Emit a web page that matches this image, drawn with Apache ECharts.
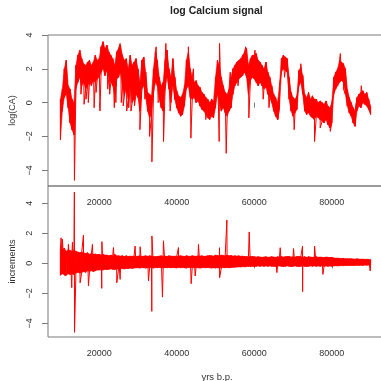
<!DOCTYPE html>
<html>
<head>
<meta charset="utf-8">
<script src="https://cdn.jsdelivr.net/npm/echarts@6/dist/echarts.min.js"></script>
<style>
  html, body { margin: 0; padding: 0; background: #fff; }
  #chart { width: 381px; height: 381px; }
</style>
</head>
<body>
<div id="chart"></div>
<script>
// sample positions (yrs b.p.), every 500 years
const years = [
  10000, 10500, 11000, 11500, 12000, 12500, 13000, 13500, 14000, 14500,
  15000, 15500, 16000, 16500, 17000, 17500, 18000, 18500, 19000, 19500,
  20000, 20500, 21000, 21500, 22000, 22500, 23000, 23500, 24000, 24500,
  25000, 25500, 26000, 26500, 27000, 27500, 28000, 28500, 29000, 29500,
  30000, 30500, 31000, 31500, 32000, 32500, 33000, 33500, 34000, 34500,
  35000, 35500, 36000, 36500, 37000, 37500, 38000, 38500, 39000, 39500,
  40000, 40500, 41000, 41500, 42000, 42500, 43000, 43500, 44000, 44500,
  45000, 45500, 46000, 46500, 47000, 47500, 48000, 48500, 49000, 49500,
  50000, 50500, 51000, 51500, 52000, 52500, 53000, 53500, 54000, 54500,
  55000, 55500, 56000, 56500, 57000, 57500, 58000, 58500, 59000, 59500,
  60000, 60500, 61000, 61500, 62000, 62500, 63000, 63500, 64000, 64500,
  65000, 65500, 66000, 66500, 67000, 67500, 68000, 68500, 69000, 69500,
  70000, 70500, 71000, 71500, 72000, 72500, 73000, 73500, 74000, 74500,
  75000, 75500, 76000, 76500, 77000, 77500, 78000, 78500, 79000, 79500,
  80000, 80500, 81000, 81500, 82000, 82500, 83000, 83500, 84000, 84500,
  85000, 85500, 86000, 86500, 87000, 87500, 88000, 88500, 89000, 89500,
  90000
];

// log(CA): low / high edge of the dense band at each sample
const caLo = [
  -2.2, -0.5, 0.3, 0.5, -0.3, -1.2, -1.6, -1.9, 0.8, 1.2,
  1.5, 1.0, 1.2, 0.8, 1.0, 1.2, 1.0, 1.3, 1.2, 1.4,
  1.5, 1.8, 2.0, 1.6, 1.9, 1.5, 1.2, 1.0, 0.5, 1.4,
  1.5, 1.8, 1.0, 0.4, 0.8, 0.2, 1.0, 0.0, 0.2, 0.5,
  0.3, -0.5, 0.8, 1.0, 0.3, -0.5, -0.9, -0.7, 0.5, 1.2,
  1.0, 0.2, -0.3, -0.5, 0.8, 1.5, 0.8, 0.0, 1.0, 0.2,
  -0.3, -0.6, -0.8, -0.7, -0.2, 0.8, 1.0, 0.3, 0.2, 0.3,
  0.0, 0.1, -0.2, -0.4, -0.5, -0.7, -0.9, -1.0, -0.8, -0.9,
  -0.3, 0.5, 0.0, -0.5, -0.3, -0.6, -0.8, -0.5, -0.3, 0.5,
  1.0, 1.2, 1.4, 1.5, 1.6, 1.8, 1.5, 0.5, 1.3, 1.5,
  1.4, 1.2, 1.0, 1.2, 1.0, 0.8, 0.9, 0.5, 0.3, 0.0,
  -0.5, -0.8, -1.0, -0.3, 1.8, 2.0, 1.9, 1.8, 0.2, -0.5,
  -0.8, -0.6, -0.4, 1.0, 1.2, 0.5, -0.5, -0.7, -0.6, -0.8,
  -0.9, -1.0, -0.8, -0.9, -1.0, -1.1, -1.2, -1.0, -1.3, -1.5,
  -1.2, 0.5, 0.8, 1.0, 1.2, 1.3, 1.2, 0.5, -0.2, -0.6,
  -0.8, -1.2, -1.4, -0.5, -0.2, -0.3, 0.0, -0.1, -0.2, -0.4,
  -0.7
];
const caHi = [
  0.2, 0.8, 2.0, 2.5, 1.0, 0.8, 0.2, 0.0, 2.2, 2.8,
  3.1, 2.6, 2.3, 2.2, 2.4, 2.5, 2.2, 2.4, 2.8, 2.5,
  2.6, 3.3, 3.6, 3.2, 3.4, 3.0, 2.8, 2.6, 2.2, 3.0,
  3.2, 3.4, 2.8, 2.5, 2.6, 2.0, 2.8, 2.2, 2.4, 2.6,
  2.0, 1.2, 2.5, 2.7, 1.8, 0.6, 0.5, 0.4, 2.0, 3.0,
  2.5, 1.5, 1.0, 1.2, 2.5, 3.1, 2.0, 1.5, 2.6, 1.5,
  0.7, 0.4, 0.3, 0.5, 1.0, 2.5, 3.0, 2.0, 1.5, 1.2,
  1.3, 1.0, 0.9, 0.6, 0.5, 0.3, 0.2, 0.0, 0.2, 0.1,
  1.5, 2.5, 2.2, 1.5, 1.0, 0.6, 0.5, 0.8, 1.5, 2.0,
  2.2, 2.4, 2.5, 2.6, 2.8, 3.0, 3.2, 2.2, 2.6, 2.8,
  2.8, 2.9, 2.5, 2.4, 2.2, 2.0, 2.4, 1.8, 1.5, 1.0,
  0.5, 0.3, 0.0, 1.0, 2.6, 2.8, 2.7, 2.6, 1.5, 0.6,
  0.3, 0.2, 0.4, 1.9, 2.1, 1.6, 0.5, 0.3, 0.6, 0.2,
  0.4, 0.2, 0.2, 0.0, 0.1, 0.0, -0.1, 0.1, -0.2, -0.3,
  0.0, 1.5, 1.8, 2.0, 2.5, 2.4, 2.3, 2.0, 0.8, 0.3,
  0.0, -0.3, -0.5, 0.3, 0.5, 0.6, 0.7, 0.5, 0.6, 0.2,
  -0.2
];
// isolated log(CA) spikes [year, value]
const caSpikes = [
  [13620, -4.6], [15300, 0.5], [16100, -0.1], [16600, 0.2], [17200, 0.0],
  [18700, -0.3], [19200, 0.6], [20200, -0.5], [21000, 3.7], [22200, 0.8],
  [22700, 0.5], [23900, -0.3], [24300, 0.0], [25400, 3.5], [25700, 0.0],
  [26200, -0.2], [27100, -0.5], [27600, -0.3], [28200, -0.5], [29100, -0.2],
  [30500, -1.6], [31800, 0.2], [33000, -2.0], [33600, -3.5], [34700, 3.3],
  [35200, 0.0], [36600, -2.3], [37200, 3.5], [38300, -0.5], [43000, 3.3],
  [43650, -2.1], [44300, 2.0], [47500, -1.0], [50950, -2.3], [51050, 3.5],
  [52760, -3.0], [53800, 1.8], [55800, 1.0], [57800, 3.3], [58600, -0.9],
  [60200, 3.1], [62300, 0.2], [63800, -0.3], [66100, -1.0], [67800, 1.5],
  [70300, -1.6], [72000, 2.3], [75550, -2.3], [77000, -1.5], [79600, -1.7],
  [82200, 2.9], [83000, 0.8], [87600, 1.0]
];

// increments: high / low edge of the dense band
const incHi = [
  1.0, 0.9, 1.0, 0.8, 0.9, 0.85, 0.8, 0.9, 0.8, 0.75,
  0.7, 0.75, 0.7, 0.65, 0.7, 0.6, 0.65, 0.6, 0.62, 0.58,
  0.6, 0.55, 0.6, 0.55, 0.55, 0.5, 0.55, 0.5, 0.6, 0.5,
  0.5, 0.48, 0.5, 0.45, 0.5, 0.45, 0.48, 0.46, 0.48, 0.45,
  0.48, 0.5, 0.45, 0.48, 0.5, 0.46, 0.5, 0.48, 0.45, 0.44,
  0.46, 0.48, 0.5, 0.46, 0.48, 0.45, 0.5, 0.48, 0.46, 0.48,
  0.46, 0.48, 0.5, 0.48, 0.46, 0.5, 0.48, 0.46, 0.5, 0.48,
  0.46, 0.5, 0.48, 0.5, 0.46, 0.48, 0.5, 0.52, 0.5, 0.48,
  0.55, 0.52, 0.5, 0.55, 0.52, 0.5, 0.55, 0.5, 0.52, 0.48,
  0.5, 0.48, 0.5, 0.46, 0.48, 0.45, 0.46, 0.44, 0.45, 0.46,
  0.44, 0.42, 0.44, 0.42, 0.4, 0.42, 0.44, 0.4, 0.42, 0.44,
  0.42, 0.4, 0.44, 0.42, 0.45, 0.42, 0.44, 0.45, 0.46, 0.42,
  0.44, 0.42, 0.45, 0.46, 0.44, 0.42, 0.44, 0.4, 0.44, 0.42,
  0.4, 0.42, 0.44, 0.4, 0.42, 0.4, 0.38, 0.42, 0.4, 0.38,
  0.4, 0.36, 0.34, 0.35, 0.33, 0.32, 0.33, 0.3, 0.31, 0.3,
  0.3, 0.29, 0.28, 0.3, 0.28, 0.27, 0.28, 0.26, 0.27, 0.26,
  0.25
];
const incLo = [
  -0.8, -0.7, -0.75, -0.8, -0.7, -0.75, -0.7, -0.75, -0.65, -0.6,
  -0.65, -0.6, -0.55, -0.6, -0.5, -0.55, -0.5, -0.55, -0.5, -0.45,
  -0.45, -0.42, -0.45, -0.4, -0.42, -0.4, -0.38, -0.4, -0.42, -0.38,
  -0.38, -0.36, -0.35, -0.38, -0.34, -0.35, -0.32, -0.34, -0.32, -0.3,
  -0.3, -0.32, -0.28, -0.3, -0.32, -0.3, -0.28, -0.3, -0.32, -0.28,
  -0.3, -0.28, -0.3, -0.32, -0.28, -0.3, -0.28, -0.3, -0.28, -0.3,
  -0.3, -0.28, -0.3, -0.28, -0.3, -0.32, -0.28, -0.3, -0.28, -0.3,
  -0.28, -0.3, -0.32, -0.3, -0.28, -0.3, -0.28, -0.3, -0.32, -0.3,
  -0.32, -0.3, -0.32, -0.3, -0.28, -0.3, -0.28, -0.3, -0.28, -0.26,
  -0.26, -0.25, -0.24, -0.25, -0.22, -0.24, -0.22, -0.2, -0.22, -0.2,
  -0.22, -0.2, -0.18, -0.2, -0.18, -0.2, -0.18, -0.2, -0.18, -0.2,
  -0.2, -0.22, -0.2, -0.18, -0.2, -0.22, -0.2, -0.18, -0.2, -0.22,
  -0.2, -0.18, -0.2, -0.22, -0.2, -0.18, -0.2, -0.22, -0.2, -0.18,
  -0.2, -0.18, -0.2, -0.18, -0.2, -0.18, -0.2, -0.18, -0.2, -0.18,
  -0.2, -0.18, -0.16, -0.18, -0.16, -0.15, -0.16, -0.15, -0.14, -0.15,
  -0.14, -0.15, -0.14, -0.13, -0.14, -0.13, -0.14, -0.12, -0.13, -0.12,
  -0.14
];
const incSpikes = [
  [10180, 1.7], [10520, 1.6], [11210, -0.85], [12070, 1.26], [12930, -1.62],
  [13100, 1.4], [13600, 4.75], [13640, -4.6], [15080, -1.3], [15940, 1.87],
  [17230, -1.5], [18260, 1.26], [20670, -1.67], [20700, 1.44], [23680, 1.05],
  [24540, -1.3], [25400, -1.07], [29270, 1.15], [30560, 1.1], [32710, -1.18],
  [33570, -3.2], [33600, 1.82], [36320, -2.25], [36580, 1.5], [40450, 1.05],
  [43720, -1.36], [44750, -0.85], [45610, 1.26], [51040, 1.04], [51060, -0.96],
  [52930, 2.88], [58690, 2.09], [65830, -0.62], [66690, 1.04], [70130, 0.98],
  [72450, 1.15], [72470, -1.89], [75550, 1.15], [77700, -0.74], [89900, -0.51]
];

const xTicks = [20000, 40000, 60000, 80000];
const yTicks = [-4, -2, 0, 2, 4];

// zig-zag lo -> hi at each sample, spikes merged in by year
function trace(lo, hi, spikes) {
  const pts = [];
  years.forEach((x, i) => { pts.push([x, lo[i]], [x, hi[i]]); });
  spikes.forEach((s) => pts.push(s));
  return pts.sort((a, b) => a[0] - b[0]);
}

const RED = '#ff0000';
const font = '"Liberation Sans", Arial, Helvetica, sans-serif';
const gray = '#7a7a7a';
const ink = '#333';

// filled band between lo and hi (one quad per sample step) + the jagged trace on top
function panelSeries(idx, lo, hi, spikes) {
  const quads = [];
  for (let i = 0; i < years.length - 1; i++) {
    quads.push([years[i], lo[i], hi[i], years[i + 1], lo[i + 1], hi[i + 1]]);
  }
  return [
    {
      type: 'custom', xAxisIndex: idx, yAxisIndex: idx, data: quads, clip: true, silent: true,
      encode: { x: [0, 3], y: [1, 2, 4, 5] },
      renderItem: (params, api) => ({
        type: 'polygon',
        shape: {
          points: [
            api.coord([api.value(0), api.value(1)]),
            api.coord([api.value(0), api.value(2)]),
            api.coord([api.value(3), api.value(5)]),
            api.coord([api.value(3), api.value(4)]),
          ],
        },
        style: { fill: RED, stroke: RED, lineWidth: 0.6 },
      }),
    },
    { type: 'line', xAxisIndex: idx, yAxisIndex: idx, data: trace(lo, hi, spikes),
      showSymbol: false, sampling: null, lineStyle: { color: RED, width: 1 } },
  ];
}

function xAxis(grid, extra) {
  return Object.assign({
    type: 'value', gridIndex: grid, min: 6800, max: 93200 + 3 * 258,
    axisLine: { show: false },
    splitLine: { show: false },
    axisTick: { customValues: xTicks, length: 5, lineStyle: { color: gray } },
    axisLabel: { customValues: xTicks, margin: 12, fontSize: 9, color: ink, fontFamily: font,
      formatter: (v) => String(v) },
  }, extra);
}
function yAxis(grid, min, max, name) {
  return {
    type: 'value', gridIndex: grid, min, max,
    name, nameLocation: 'middle', nameRotate: 90, nameGap: 31,
    nameTextStyle: { fontSize: 9, color: ink, fontFamily: font },
    axisLine: { show: false },
    splitLine: { show: false },
    axisTick: { customValues: yTicks, length: 6, lineStyle: { color: gray } },
    axisLabel: { customValues: yTicks, rotate: 90, margin: 14, fontSize: 9, color: ink, fontFamily: font,
      formatter: (v) => String(v).replace('-', '\u2212') },
  };
}

const chart = echarts.init(document.getElementById('chart'));
chart.setOption({
  animation: false,
  backgroundColor: '#fff',
  title: {
    text: 'log Calcium signal', left: 170, top: 6, padding: 0,
    textStyle: { fontSize: 10.5, fontWeight: 'bold', color: '#222', fontFamily: font },
  },
  grid: [
    { left: 48, top: 35, width: 338, height: 151, outerBoundsMode: 'none', containLabel: false,
      show: true, borderColor: gray, borderWidth: 1 },
    { left: 48, top: 186, width: 338, height: 151, outerBoundsMode: 'none', containLabel: false,
      show: true, borderColor: gray, borderWidth: 1 },
  ],
  xAxis: [
    xAxis(0, {}),
    xAxis(1, { name: 'yrs b.p.', nameLocation: 'middle', nameGap: 35,
      nameTextStyle: { fontSize: 9.5, color: ink, fontFamily: font } }),
  ],
  yAxis: [
    yAxis(0, -4.93, 4.0, 'log(CA)'),
    yAxis(1, -4.91, 5.15, 'increments'),
  ],
  series: [
    ...panelSeries(0, caLo, caHi, caSpikes),
    ...panelSeries(1, incLo, incHi, incSpikes),
  ],
});
</script>
</body>
</html>
